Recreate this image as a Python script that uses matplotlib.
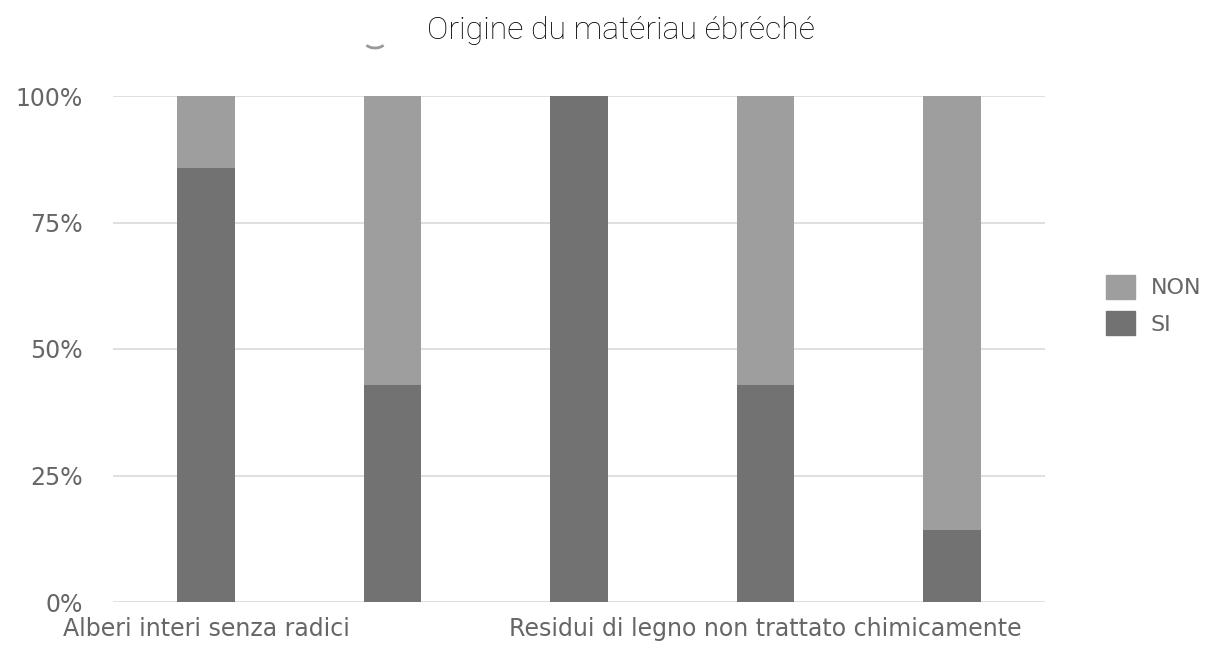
import matplotlib.pyplot as plt
from matplotlib.ticker import FuncFormatter
from matplotlib.patches import Patch, Arc

categories = ['Alberi interi senza radici', '', '',
              'Residui di legno non trattato chimicamente', '']
si = [0.857, 0.429, 1.0, 0.429, 0.143]
non = [1 - v for v in si]

col_si = '#727272'
col_non = '#9e9e9e'
lab_font = ['Liberation Sans Narrow', 'DejaVu Sans']

fig = plt.figure(figsize=(12.12, 6.45), dpi=100)
ax = fig.add_axes([113 / 1212, 43 / 645, 932 / 1212, 506 / 645])

x = list(range(len(categories)))
ax.bar(x, si, width=0.31, color=col_si, zorder=3)
ax.bar(x, non, width=0.31, bottom=si, color=col_non, zorder=3)

ax.set_xlim(-0.5, 4.5)
ax.set_ylim(0, 1)
ax.set_yticks([0, 0.25, 0.5, 0.75, 1.0])
ax.yaxis.set_major_formatter(FuncFormatter(lambda v, p: f'{v:.0%}'))
ax.grid(axis='y', color='#d9d9d9', linewidth=1.2, zorder=0)
for s in ax.spines.values():
    s.set_visible(False)
ax.tick_params(length=0)
ax.tick_params(axis='y', pad=22)
ax.tick_params(axis='x', pad=11)
ax.set_xticks(x)
ax.set_xticklabels(categories)
for t in ax.get_yticklabels() + ax.get_xticklabels():
    t.set_family(lab_font)
    t.set_fontsize(17)
    t.set_color('#666666')

fig.text(0.512, 0.953, 'Origine du matériau ébréché', ha='center', va='center',
         fontsize=23, family='Roboto', fontweight='light', color='#000000')

# small grey arc left under the title
fig.add_artist(Arc((375 / 1212, 1 - 42 / 645), 20 / 1212, 12 / 645,
                   theta1=215, theta2=325, color='#999999', lw=2,
                   transform=fig.transFigure))

handles = [Patch(color=col_non, label='NON'), Patch(color=col_si, label='SI')]
leg = fig.legend(handles=handles, loc='center left', bbox_to_anchor=(0.896, 0.527),
                 frameon=False, prop={'family': lab_font, 'size': 16},
                 handlelength=1.3, handleheight=1.3, handletextpad=0.7,
                 labelspacing=0.55)
for t in leg.get_texts():
    t.set_color('#666666')

fig.savefig('out.png', dpi=100)
